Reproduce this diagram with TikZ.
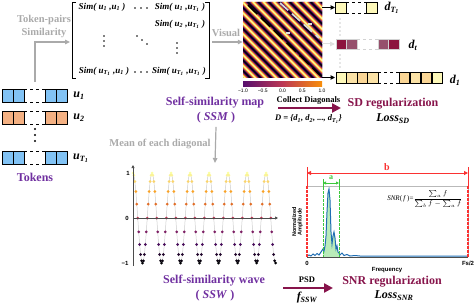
\documentclass[tikz,border=0pt]{standalone}
\usepackage{amsmath}
\usepackage{fontspec}
\setmainfont{Liberation Serif}
\setsansfont{Liberation Sans}
\usetikzlibrary{
	arrows.meta,
	calc,
	positioning
}

\definecolor{infA}{RGB}{0,0,4}
\definecolor{infB}{RGB}{87,16,110}
\definecolor{infC}{RGB}{188,55,84}
\definecolor{infD}{RGB}{249,142,9}
\definecolor{infE}{RGB}{252,255,164}
\definecolor{tokpurple}{RGB}{112,48,160}
\definecolor{regcol}{RGB}{135,20,75}
\definecolor{txtgrey}{RGB}{170,170,170}
\definecolor{cellblue}{RGB}{130,195,245}
\definecolor{cellorange}{RGB}{244,177,131}
\definecolor{dyelA}{RGB}{253,248,185}
\definecolor{dyelB}{RGB}{251,226,166}
\definecolor{dyelC}{RGB}{250,214,150}
\definecolor{dredA}{RGB}{140,20,62}
\definecolor{dredB}{RGB}{150,80,108}
\definecolor{specblue}{RGB}{31,110,180}
\definecolor{snrred}{RGB}{250,50,50}
\definecolor{snrgreen}{RGB}{60,200,60}

\pgfdeclarehorizontalshading{infshade}{100bp}{color(0bp)=(infA); color(25bp)=(infB); color(50bp)=(infC); color(75bp)=(infD); color(100bp)=(infE)}

% colour of the inferno map at #1 in [0,1], stored as infc
\newcommand{\infmap}[1]{%
	\pgfmathsetmacro{\infT}{4*max(0,min(1,#1))}%
	\pgfmathtruncatemacro{\infS}{min(int(\infT),3)}%
	\pgfmathsetmacro{\infF}{100*(\infT-\infS)}%
	\ifcase\infS\relax
		\colorlet{infc}{infB!\infF!infA}%
	\or \colorlet{infc}{infC!\infF!infB}%
	\or \colorlet{infc}{infD!\infF!infC}%
	\or \colorlet{infc}{infE!\infF!infD}%
	\fi}

\begin{document}
\begin{tikzpicture}[x=1pt, y=-1pt,
	lbl/.style={font=\fontsize{12}{14}\selectfont\bfseries, text=tokpurple},
	reg/.style={font=\fontsize{12}{14}\selectfont\bfseries, text=regcol},
	note/.style={font=\fontsize{10.5}{13}\selectfont\bfseries, text=txtgrey},
	simtxt/.style={font=\fontsize{9}{10}\selectfont\bfseries\itshape, inner sep=1pt},
	vlbl/.style={font=\fontsize{12}{14}\selectfont\bfseries\itshape},
	small/.style={font=\fontsize{8.5}{10}\selectfont\bfseries},
	ax/.style={font=\fontsize{6}{6.5}\selectfont\sffamily\bfseries},
	cell/.style={draw=black, line width=0.9pt},
	greyarrow/.style={-{Triangle[length=5pt,width=4.5pt]}, txtgrey, line width=1.2pt},
	blkarrow/.style={-{Triangle[length=4.5pt,width=4.5pt]}, black, line width=1pt},
	fatarrow/.style={-{Triangle[length=9pt,width=9pt]}, regcol, line width=2.4pt}]

	\useasboundingbox (0,0) rectangle (476,305);

	% tokens
	\foreach \x in {2,13,45,56} \filldraw[cell, fill=cellblue] (\x,89) rectangle ++(11,13);
	\foreach \x in {2,13,45,56} \filldraw[cell, fill=cellorange] (\x,111) rectangle ++(11,13);
	\foreach \x in {2,13,45,56} \filldraw[cell, fill=cellblue] (\x,151) rectangle ++(11,13);
	\foreach \y in {89,102,111,124,151,164} \draw[cell, dashed] (24,\y) -- (45,\y);
	\foreach \y in {129,135,141} \fill (35,\y) circle[radius=1.1];

	\node[vlbl] (u1) at (79,96) {u\textsubscript{1}};
	\node[vlbl] (u2) at (79,118) {u\textsubscript{2}};
	\node[vlbl] (uT) at (81,158) {u\textsubscript{T\textsubscript{1}}};
	\node[lbl] (tokens) at (35,177) {Tokens};

	% similarity matrix
	\node[note, align=center] (tokpair) at (44,26) {Token-pairs\\Similarity};
	\draw[line width=0.8pt] (76,2) -- (72,2) -- (72,78) -- (76,78);
	\draw[line width=0.8pt] (205,2) -- (209,2) -- (209,78) -- (205,78);
	\node[simtxt] (s11) at (102,7) {Sim( u\textsubscript{1} ,u\textsubscript{1} )};
	\node[simtxt] (s1T) at (180,7) {Sim( u\textsubscript{1} ,u\textsubscript{T\textsubscript{1}} )};
	\node[simtxt] (s2T) at (180,24) {Sim( u\textsubscript{2} ,u\textsubscript{T\textsubscript{1}} )};
	\node[simtxt] (sT1) at (104,71) {Sim( u\textsubscript{T\textsubscript{1}} ,u\textsubscript{1} )};
	\node[simtxt] (sTT) at (179,71) {Sim( u\textsubscript{T\textsubscript{1}} ,u\textsubscript{T\textsubscript{1}} )};
	\foreach \x in {135,141,147} {
		\fill (\x,8) circle[radius=0.8];
		\fill (\x,72) circle[radius=0.8];
	}
	\foreach \d in {-5,0,5} {
		\fill (104,41+\d) circle[radius=0.8];
		\fill (177,48+\d) circle[radius=0.8];
		\fill (142+\d,40+0.8*\d) circle[radius=0.8];
	}

	\coordinate (uTop) at (35,82);
	\coordinate (matIn) at (70,42);
	\draw[greyarrow] (uTop) |- (matIn);

	\node[note] (visual) at (226,33) {Visual};

	% self-similarity map
	\node[inner sep=0, minimum width=79pt, minimum height=75pt] (heat) at (282.5,39.5) {};
	\begin{scope}
		\clip (243,2) rectangle (322,77);
		\foreach \i in {0,...,320}{
			\pgfmathsetmacro{\cc}{\i/2-80}
			\pgfmathsetmacro{\vv}{cos(34.2857*\cc)}
			\infmap{(1+\vv)/2}
			\draw[infc, line width=0.75pt] (243+\cc,2) -- ++(80,80);
		}
		\draw[black, line width=1.7pt, dash pattern=on 13pt off 5pt] (248,5) -- (321,76);
		\draw[gray!30, line width=1.7pt, dash pattern=on 11pt off 5pt] (280,3) -- (319,38);
		\fill[gray!25] (286,32) rectangle ++(4,2);
		\fill[gray!25] (308,23) rectangle ++(4,2);
	\end{scope}
	\coordinate (matOut) at (212,42);
	\draw[greyarrow] (matOut) -- (heat.west |- matOut);

	% colour bar
	\shade[shading=infshade] (243,81) rectangle (322,86);
	\foreach \t [count=\k from 0] in {−1.0,−0.5,0.0,0.5,1.0}
		\node[ax, font=\fontsize{5}{5}\selectfont\sffamily] (cb\k) at (243+19.75*\k,90.5) {\t};

	% diagonals
	\foreach \x in {335,366} \filldraw[cell, fill=dyelA] (\x,2) rectangle ++(11,11);
	\draw[cell, dashed] (346,2) -- (366,2) (346,13) -- (366,13);
	\foreach \x/\c in {336/dredA,346.5/dredB,378/dredB,388.5/dredA}
		\filldraw[draw=gray!35, line width=0.9pt, fill=\c] (\x,39) rectangle ++(10.5,10);
	\draw[draw=gray!35, line width=0.9pt, dashed] (357,39) -- (378,39) (357,49) -- (378,49);
	\foreach \x/\c in {336/dyelA,346.5/dyelB,357/dyelC,367.5/dyelB,399/dyelC,410/dyelB,421/dyelC,432/dyelA}
		\filldraw[cell, fill=\c] (\x,72) rectangle ++(10.5,11);
	\draw[cell, dashed] (378,72) -- (399,72) (378,83) -- (399,83);
	\draw[gray!40, line width=1.6pt, line cap=round, dash pattern=on 0pt off 4pt] (340,19) -- (340,35);
	\draw[gray!40, line width=1.6pt, line cap=round, dash pattern=on 0pt off 4pt] (340,55) -- (340,68);

	\coordinate (dTin) at (335,7.5);
	\coordinate (dtin) at (335,44);
	\coordinate (d1in) at (335,77.5);
	\draw[blkarrow] (heat.east |- dTin) -- (dTin);
	\draw[greyarrow, gray!25, line width=1pt] (heat.east |- dtin) -- (dtin);
	\draw[blkarrow] (heat.east |- d1in) -- (d1in);
	\node[vlbl] (dT) at (392,8) {d\textsubscript{T\textsubscript{1}}};
	\node[vlbl] (dt) at (413,45) {d\textsubscript{t}};
	\node[vlbl] (d1) at (455,80) {d\textsubscript{1}};

	% labels under the map
	\node[lbl] (ssm) at (215,103) {Self-similarity map};
	\node[lbl] (ssmab) at (216,118) {( \textit{SSM} )};
	\node[small] (coll) at (308.5,100) {Collect Diagonals};
	\coordinate (cdA) at (278,108);
	\coordinate (cdB) at (341,108);
	\draw[fatarrow] (cdA) -- (cdB);
	\node[small, font=\fontsize{8.5}{10}\selectfont\bfseries\itshape] (setD) at (308.5,119)
		{D = \{d\textsubscript{1}, d\textsubscript{2}, ..., d\textsubscript{T\textsubscript{1}}\}};
	\node[reg] (sdreg) at (393,104) {SD regularization};
	\node[vlbl] (losssd) at (393,119) {Loss\textsubscript{SD}};

	% self-similarity wave
	\node[note] (mean) at (160,144) {Mean of each diagonal};
	\coordinate (waveTop) at (215,163);
	\draw[greyarrow] (ssmab.south) -- (waveTop);

	\coordinate (wBot) at (133,266);
	\coordinate (wTop) at (133,165);
	\coordinate (wO) at (133,218);
	\coordinate (wEnd) at (278,218);
	\draw[gray!40, line width=0.5pt] plot[domain=0:150, samples=151, variable=\t] ({133+0.95*\t},{218-45*cos(18*\t)});
	\foreach \n in {0,...,150}{
		\pgfmathsetmacro{\vv}{cos(18*\n)}
		\infmap{(1+\vv)/2}
		\fill[infc] (133+0.95*\n,218-45*\vv) circle[radius=1.5];
	}
	\draw[black!70, line width=0.7pt, -{Triangle[length=3pt,width=3pt]}] (wBot) -- (wTop);
	\draw[black!70, line width=0.7pt, -{Triangle[length=3pt,width=3pt]}] (wO) -- (wEnd);
	\node[ax] (w1) at (128,173) {1};
	\node[ax] (w0) at (127,218) {0};
	\node[ax] (wm1) at (125,263) {−1};

	\node[lbl] (ssw) at (214,281) {Self-similarity wave};
	\node[lbl] (sswab) at (215,296) {( \textit{SSW} )};

	% spectrum
	\begin{scope}
		\clip (323,180) rectangle (339,257);
		\fill[snrgreen!45, opacity=0.8] plot coordinates {(321,252) (323,249) (324,251) (325,246) (326,236)
			(327,212) (328,193) (329,189) (330,200) (331,232) (332,244) (333,236) (334,232) (335,238)
			(336,249) (337,246) (338,252) (339,253) (341,255)} -- (341,257) -- (321,257) -- cycle;
	\end{scope}
	\draw[specblue, line width=1pt] plot coordinates {(307,256) (309,255) (311,256) (313,254) (315,255.5)
		(317,253.5) (319,255) (321,252) (323,249) (324,251) (325,246) (326,236) (327,212) (328,193)
		(329,189) (330,200) (331,232) (332,244) (333,236) (334,232) (335,238) (336,249) (337,246)
		(338,252) (339,253) (340,255) (342,253) (344,255.5) (347,254.5) (350,256) (355,255.5)
		(360,256) (468,256)};
	\draw[gray!55, line width=1pt] (307,186) -- (468,186) -- (468,257);
	\draw[black!70, line width=0.8pt] (307,257) -- (468,257);

	\coordinate (bL) at (307,173);
	\coordinate (bR) at (468,173);
	\draw[snrred, line width=1pt] (307,167) -- (307,186) (468,167) -- (468,186);
	\draw[snrred, line width=1.2pt, dash pattern=on 2.5pt off 1.5pt] (307,186) -- (307,257) (468,186) -- (468,257);
	\draw[snrred, line width=1pt, {Triangle[length=4pt,width=4pt]}-{Triangle[length=4pt,width=4pt]}] (bL) -- (bR);
	\node[font=\fontsize{10}{12}\selectfont\bfseries, text=snrred] (b) at (387,167) {b};

	\coordinate (aL) at (323,183);
	\coordinate (aR) at (339,183);
	\draw[snrgreen, line width=0.8pt] (323,179) -- (323,187) (339,179) -- (339,187);
	\draw[snrgreen, line width=0.8pt, dash pattern=on 2.5pt off 1.5pt] (323,187) -- (323,257) (339,187) -- (339,257);
	\draw[snrgreen, line width=0.8pt, {Triangle[length=3pt,width=3pt]}-{Triangle[length=3pt,width=3pt]}] (aL) -- (aR);
	\node[font=\fontsize{8}{10}\selectfont\bfseries, text=snrgreen] (a) at (331,177.5) {a};

	\node[font=\fontsize{7}{8}\selectfont, inner sep=1pt] (snr) at (425,199)
		{\textit{SNR}(\,\textit{f}\,)=$\dfrac{\sum_a f}{\sum_b f-\sum_a f}$};
	\node[ax, rotate=90, align=center, font=\fontsize{5.5}{5.5}\selectfont\sffamily\bfseries] (namp) at (297.5,222) {Normalized\\Amplitude};
	\node[ax] (f0) at (307,263) {0};
	\node[ax] (fs) at (468,263) {Fs/2};
	\node[ax] (freq) at (387,270) {Frequency};

	% regularization by PSD
	\node[small] (psd) at (307,280) {PSD};
	\coordinate (psdA) at (283,288);
	\coordinate (psdB) at (333,288);
	\draw[fatarrow] (psdA) -- (psdB);
	\node[vlbl] (fssw) at (307,298) {f\textsubscript{SSW}};
	\node[reg] (snrreg) at (392,282) {SNR regularization};
	\node[vlbl] (losssnr) at (394,296) {Loss\textsubscript{SNR}};

\end{tikzpicture}
\end{document}
